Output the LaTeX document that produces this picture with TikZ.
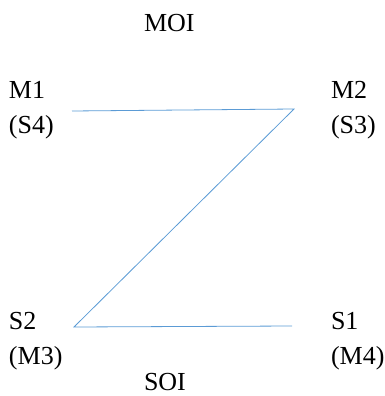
\documentclass[tikz,border=0pt]{standalone}
\usepackage{fontspec}
\setmainfont{Liberation Serif}
\usepackage{tikz}
\usetikzlibrary{positioning}

\begin{document}
\begin{tikzpicture}[x=1pt,y=-1pt,every node/.style={inner sep=0pt, outer sep=0pt, anchor=base west, font=\fontsize{26}{35}\selectfont},
  pair/.style={align=left},
  link/.style={draw={rgb,255:red,91;green,155;blue,213}, line width=0.8pt}]
\useasboundingbox (0,0) rectangle (384,396);
\node (moi) at (144,32) {MOI};
\node[pair] (m1) at (9,133) {M1\\(S4)};
\node[pair] (m2) at (331,133) {M2\\(S3)};
\node[pair] (s2) at (9,364) {S2\\(M3)};
\node[pair] (s1) at (331,364) {S1\\(M4)};
\node (soi) at (144,390) {SOI};
% the Z between the pairs
\coordinate (za) at (72,111);
\coordinate (zb) at (294,109);
\coordinate (zc) at (74,327);
\coordinate (zd) at (292,326);
\draw[link] (za) -- (zb) -- (zc) -- (zd);
\end{tikzpicture}
\end{document}
